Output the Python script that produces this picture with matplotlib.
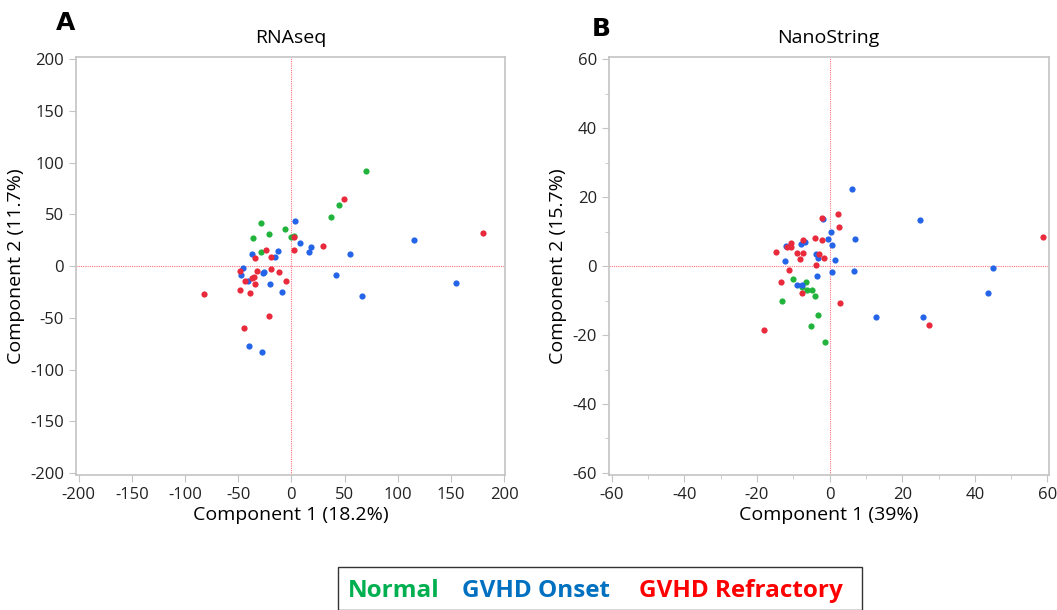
import numpy as np
import matplotlib
matplotlib.use('Agg')
import matplotlib.pyplot as plt
from matplotlib.ticker import MultipleLocator

plt.rcParams['font.family'] = ['Open Sans', 'DejaVu Sans']
plt.rcParams['axes.unicode_minus'] = False

# PCA scores
# RNAseq
rna_normal_x = [70, 45, 37, -29, -6, -21, 2, 0, -36, -29]
rna_normal_y = [92, 59, 47, 42, 36, 31, 29, 28, 27, 14]
rna_onset_x = [3, 8, 18, 17, 55, -13, -15, -37, -46, -47, -26, -27, -41, -20, -9, 42, 66, -40, -28, 115, 155]
rna_onset_y = [44, 22, 18, 14, 12, 15, 9, 12, -2, -9, -6, -7, -14, -17, -25, -9, -29, -77, -83, 25, -16]
rna_refr_x = [49, 2, 2, 30, -24, -34, -19, -32, -19, -12, -48, -44, -37, -35, -34, -5, -48, -39, -82, -21, -45, 180]
rna_refr_y = [65, 28, 16, 19, 16, 8, 9, -5, -3, -6, -5, -14, -12, -11, -17, -14, -23, -26, -27, -48, -60, 32]

# NanoString
ns_normal_x = [-10.1, -6.4, -7.7, -6.1, -4.8, -4.0, -13.1, -3.3, -5.2, -1.3]
ns_normal_y = [-3.8, -4.6, -6.0, -7.0, -7.0, -8.6, -10.1, -14.3, -17.4, -21.9]
ns_onset_x = [6.3, -1.8, 0.4, -0.4, 0.8, 6.9, -12.1, -7.8, -6.9, -3.8, -3.3, -12.2, 1.4, 6.6, 0.6,
              -3.4, -9.0, -7.6, 44.9, 43.5, 25.6, 25.0, 12.7]
ns_onset_y = [22.4, 13.7, 9.9, 7.8, 6.2, 7.8, 5.8, 6.4, 7.0, 3.4, 2.2, 1.5, 1.9, -1.4, -1.6,
              -2.8, -5.5, -5.6, -0.6, -7.8, -14.9, 13.5, -14.9]
ns_refr_x = [2.2, -2.0, 2.7, -3.9, -2.0, -7.2, -10.5, -10.6, -11.6, -14.8, -9.0, -7.2, -2.8, -8.2,
             -1.6, -3.8, -11.2, -13.4, -7.7, 2.8, -18.1, 27.5, 58.9]
ns_refr_y = [15.2, 14.0, 11.3, 8.1, 7.5, 7.5, 6.6, 5.4, 5.6, 4.2, 3.7, 3.8, 3.4, 2.1,
             2.3, 0.3, -1.2, -4.6, -7.7, -10.7, -18.4, -17.0, 8.3]

c_normal = '#21b33b'
c_onset = '#2464e8'
c_refr = '#e82a3c'
spine_col = '#c4c4c4'


def setup_axes(ax, lim, major, minor, title, xlabel, ylabel):
    ax.set_xlim(-lim * 1.013, lim * 1.005)
    ax.set_ylim(-lim * 1.01, lim * 1.01)
    ax.xaxis.set_major_locator(MultipleLocator(major))
    ax.yaxis.set_major_locator(MultipleLocator(major))
    if minor:
        ax.xaxis.set_minor_locator(MultipleLocator(minor))
        ax.yaxis.set_minor_locator(MultipleLocator(minor))
    for s in ax.spines.values():
        s.set_color(spine_col)
        s.set_linewidth(1.2)
    ax.tick_params(which='both', color=spine_col, labelsize=12, labelcolor='#222222')
    ax.tick_params(which='major', length=5)
    ax.tick_params(which='minor', length=3)
    ax.axhline(0, color='#ff6f7d', lw=0.8, ls=(0, (1, 1)), zorder=1)
    ax.axvline(0, color='#ff6f7d', lw=0.8, ls=(0, (1, 1)), zorder=1)
    ax.set_title(title, fontsize=14, pad=10)
    ax.set_xlabel(xlabel, fontsize=14, labelpad=2)
    ax.set_ylabel(ylabel, fontsize=14, labelpad=4)


fig = plt.figure(figsize=(10.57, 6.10), dpi=100)
ax1 = fig.add_axes([0.0719, 0.2213, 0.406, 0.685])
ax2 = fig.add_axes([0.576, 0.2213, 0.416, 0.685])

ax1.scatter(rna_normal_x, rna_normal_y, s=20, color=c_normal, zorder=3, linewidths=0)
ax1.scatter(rna_onset_x, rna_onset_y, s=20, color=c_onset, zorder=3, linewidths=0)
ax1.scatter(rna_refr_x, rna_refr_y, s=20, color=c_refr, zorder=3, linewidths=0)
setup_axes(ax1, 200, 50, None, 'RNAseq', 'Component 1 (18.2%)', 'Component 2 (11.7%)')

ax2.scatter(ns_normal_x, ns_normal_y, s=20, color=c_normal, zorder=3, linewidths=0)
ax2.scatter(ns_onset_x, ns_onset_y, s=20, color=c_onset, zorder=3, linewidths=0)
ax2.scatter(ns_refr_x, ns_refr_y, s=20, color=c_refr, zorder=3, linewidths=0)
setup_axes(ax2, 60, 20, 10, 'NanoString', 'Component 1 (39%)', 'Component 2 (15.7%)')

fig.text(0.062, 0.962, 'A', fontsize=18, fontweight='bold', ha='center', va='center',
         family=['DejaVu Sans'])
fig.text(0.569, 0.952, 'B', fontsize=18, fontweight='bold', ha='center', va='center',
         family=['DejaVu Sans'])

# legend box with coloured text
box = plt.Rectangle((338 / 1057, 0.0), 524 / 1057, 43 / 610, transform=fig.transFigure,
                    fill=False, edgecolor='#333333', lw=1.0)
fig.add_artist(box)
ty = 1 - 591 / 610
fig.text(394 / 1057, ty, 'Normal', color='#00b050', fontsize=17.5, fontweight='bold',
         ha='center', va='center')
fig.text(536 / 1057, ty, 'GVHD Onset', color='#0070c0', fontsize=17.5, fontweight='bold',
         ha='center', va='center')
fig.text(741 / 1057, ty, 'GVHD Refractory', color='#ff0000', fontsize=17.5, fontweight='bold',
         ha='center', va='center')

fig.savefig('out.png', dpi=100)
